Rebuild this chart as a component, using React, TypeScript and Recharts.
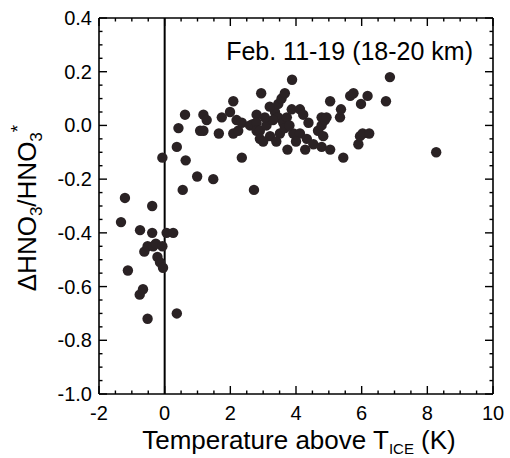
import React from "react";
import { ScatterChart, Scatter, XAxis, YAxis, ReferenceLine, Label } from "recharts";

// temperature above T_ice (K) and the matching ΔHNO3/HNO3* value
const tempAboveIce = [
  -1.33, -1.21, -1.12, -0.76, -0.66, -0.75, -0.62, -0.52, -0.52, -0.38,
  -0.38, -0.35, -0.27, -0.22, -0.14, -0.07, -0.05, 0.06, 0.26, 0.37,
  -0.07, 0.37, 0.42, 0.55, 0.62, 0.64, 0.99, 1.08, 1.18, 1.18,
  1.28, 1.48, 1.65, 1.74, 1.99, 2.09, 2.09, 2.19, 2.24, 2.35,
  2.35, 2.6, 2.72, 2.68, 2.8, 2.8, 2.8, 2.94, 2.9, 2.9,
  3.21, 3.36, 3.46, 3.46, 3.51, 3.56, 3.61, 3.66, 3.66, 3.72,
  3.74, 3.87, 3.88, 3.92, 4.12, 4.12, 4.22, 4.28, 4.33, 4.38,
  4.53, 4.67, 4.78, 4.78, 4.78, 4.83, 4.88, 4.93, 5.04, 5.04,
  5.34, 5.37, 5.44, 5.65, 5.75, 5.9, 5.95, 5.98, 6.03, 6.18,
  6.23, 6.74, 6.86, 8.27, 3.0, 3.1, 3.3, 3.4, 3.8, 4.0,
  3.2, 3.05,
];
const hno3Change = [
  -0.36, -0.27, -0.54, -0.63, -0.61, -0.39, -0.47, -0.45, -0.72, -0.3,
  -0.4, -0.45, -0.44, -0.49, -0.51, -0.45, -0.53, -0.4, -0.4, -0.7,
  -0.12, -0.08, -0.01, -0.24, 0.04, -0.13, -0.19, -0.02, -0.02, 0.04,
  0.02, -0.2, -0.03, 0.03, 0.05, 0.09, -0.03, 0.02, -0.02, 0.01,
  -0.12, 0.0, -0.24, 0.005, 0.04, 0.01, -0.02, 0.12, -0.02, -0.05,
  -0.04, 0.05, 0.08, 0.03, -0.03, 0.1, 0.01, 0.12, -0.01, 0.03,
  -0.09, 0.06, 0.17, -0.03, 0.06, -0.03, 0.04, -0.09, -0.05, 0.01,
  -0.07, -0.02, 0.0, 0.03, -0.08, -0.04, 0.02, 0.03, 0.09, -0.09,
  0.03, 0.06, -0.12, 0.11, 0.12, -0.07, -0.04, 0.08, -0.03, 0.11,
  -0.03, 0.09, 0.18, -0.1, -0.06, 0.0, 0.02, -0.06, 0.0, -0.06,
  0.07, 0.03,
];

const xTicks = [
  -2, -1.5, -1, -0.5, 0, 0.5, 1, 1.5, 2, 2.5, 3, 3.5, 4, 4.5, 5, 5.5, 6,
  6.5, 7, 7.5, 8, 8.5, 9, 9.5, 10,
];
const xLabelled = [-2, 0, 2, 4, 6, 8, 10];
const yTicks = [
  -1.0, -0.95, -0.9, -0.85, -0.8, -0.75, -0.7, -0.65, -0.6, -0.55, -0.5,
  -0.45, -0.4, -0.35, -0.3, -0.25, -0.2, -0.15, -0.1, -0.05, 0.0, 0.05,
  0.1, 0.15, 0.2, 0.25, 0.3, 0.35, 0.4,
];
const yLabelled = [-1.0, -0.8, -0.6, -0.4, -0.2, 0.0, 0.2, 0.4];

const points = tempAboveIce.map((t, i) => ({ t, d: hno3Change[i] }));

const FONT = "'Liberation Sans', Arial, Helvetica, sans-serif";
const INK = "#000";
const DOT = "#2a2224";

const isIn = (list: number[], v: number) => list.some((l) => Math.abs(l - v) < 1e-6);

// ticks point into the plot; labels sit outside
const BottomTick = ({ x, y, payload }: any) => {
  const major = isIn(xLabelled, payload.value);
  return (
    <g>
      <line x1={x} y1={y} x2={x} y2={y - (major ? 8 : 3.5)} stroke={INK} strokeWidth={1.4} />
      {major && (
        <text x={x} y={y + 26} textAnchor="middle" fontSize={20} fill={INK} fontFamily={FONT}>
          {payload.value}
        </text>
      )}
    </g>
  );
};

const TopTick = ({ x, y, payload }: any) => {
  const major = isIn(xLabelled, payload.value);
  return <line x1={x} y1={y} x2={x} y2={y + (major ? 8 : 3.5)} stroke={INK} strokeWidth={1.4} />;
};

const LeftTick = ({ x, y, payload }: any) => {
  const major = isIn(yLabelled, payload.value);
  return (
    <g>
      <line x1={x} y1={y} x2={x + (major ? 8 : 3.5)} y2={y} stroke={INK} strokeWidth={1.4} />
      {major && (
        <text x={x - 7} y={y + 7} textAnchor="end" fontSize={20} fill={INK} fontFamily={FONT}>
          {payload.value.toFixed(1)}
        </text>
      )}
    </g>
  );
};

const RightTick = ({ x, y, payload }: any) => {
  const major = isIn(yLabelled, payload.value);
  return <line x1={x} y1={y} x2={x - (major ? 8 : 3.5)} y2={y} stroke={INK} strokeWidth={1.4} />;
};

const XTitle = ({ viewBox }: any) => {
  const cx = viewBox.x + viewBox.width / 2 + 3;
  const by = viewBox.y + 55;
  return (
    <text x={cx} y={by} textAnchor="middle" fontSize={26} fill={INK} fontFamily={FONT}>
      Temperature above T
      <tspan fontSize={15} dy={5}>ICE</tspan>
      <tspan dy={-5}> (K)</tspan>
    </text>
  );
};

const YTitle = ({ viewBox }: any) => {
  const bx = 36;
  const cy = viewBox.y + viewBox.height / 2 + 2;
  return (
    <text
      x={bx}
      y={cy}
      transform={`rotate(-90 ${bx} ${cy})`}
      textAnchor="middle"
      fontSize={26}
      fill={INK}
      fontFamily={FONT}
    >
      ΔHNO
      <tspan fontSize={17} dy={6}>3</tspan>
      <tspan dy={-6}>/HNO</tspan>
      <tspan fontSize={17} dy={6}>3</tspan>
      <tspan fontSize={19} dy={-18}>*</tspan>
    </text>
  );
};

const Note = ({ viewBox }: any) => (
  <text
    x={viewBox.x + viewBox.width - 20}
    y={viewBox.y + viewBox.height + 42}
    textAnchor="end"
    fontSize={25}
    fill={INK}
    fontFamily={FONT}
  >
    Feb. 11-19 (18-20 km)
  </text>
);

export default function App() {
  const axisLine = { stroke: INK, strokeWidth: 1.6 };
  return (
    <div style={{ position: "absolute", left: 0, top: 0, background: "#fff" }}>
      <ScatterChart
        width={510}
        height={458}
        margin={{ top: 17, right: 16, bottom: 0, left: 0 }}
        style={{ fontFamily: FONT }}
      >
        <XAxis
          xAxisId="b"
          dataKey="t"
          type="number"
          domain={[-2, 10]}
          ticks={xTicks}
          interval={0}
          allowDataOverflow
          height={64}
          tickSize={0}
          tickMargin={0}
          tickLine={false}
          axisLine={axisLine}
          tick={<BottomTick />}
        >
          <Label content={<XTitle />} />
        </XAxis>
        <XAxis
          xAxisId="t"
          orientation="top"
          dataKey="t"
          type="number"
          domain={[-2, 10]}
          ticks={xTicks}
          interval={0}
          allowDataOverflow
          height={1}
          tickSize={0}
          tickMargin={0}
          tickLine={false}
          axisLine={axisLine}
          tick={<TopTick />}
        >
          <Label content={<Note />} />
        </XAxis>
        <YAxis
          yAxisId="l"
          dataKey="d"
          type="number"
          domain={[-1, 0.4]}
          ticks={yTicks}
          interval={0}
          allowDataOverflow
          width={99}
          tickSize={0}
          tickMargin={0}
          tickLine={false}
          axisLine={axisLine}
          tick={<LeftTick />}
        >
          <Label content={<YTitle />} />
        </YAxis>
        <YAxis
          yAxisId="r"
          orientation="right"
          dataKey="d"
          type="number"
          domain={[-1, 0.4]}
          ticks={yTicks}
          interval={0}
          allowDataOverflow
          width={1}
          tickSize={0}
          tickMargin={0}
          tickLine={false}
          axisLine={axisLine}
          tick={<RightTick />}
        />
        <ReferenceLine xAxisId="b" yAxisId="l" x={0} stroke={INK} strokeWidth={2} />
        {/* invisible twin so the top and right frame axes have data to scale */}
        <Scatter
          xAxisId="t"
          yAxisId="r"
          data={points}
          isAnimationActive={false}
          shape={() => <g />}
        />
        <Scatter
          xAxisId="b"
          yAxisId="l"
          data={points}
          isAnimationActive={false}
          shape={(p: any) => <circle cx={p.cx} cy={p.cy} r={5.2} fill={DOT} />}
        />
      </ScatterChart>
    </div>
  );
}
